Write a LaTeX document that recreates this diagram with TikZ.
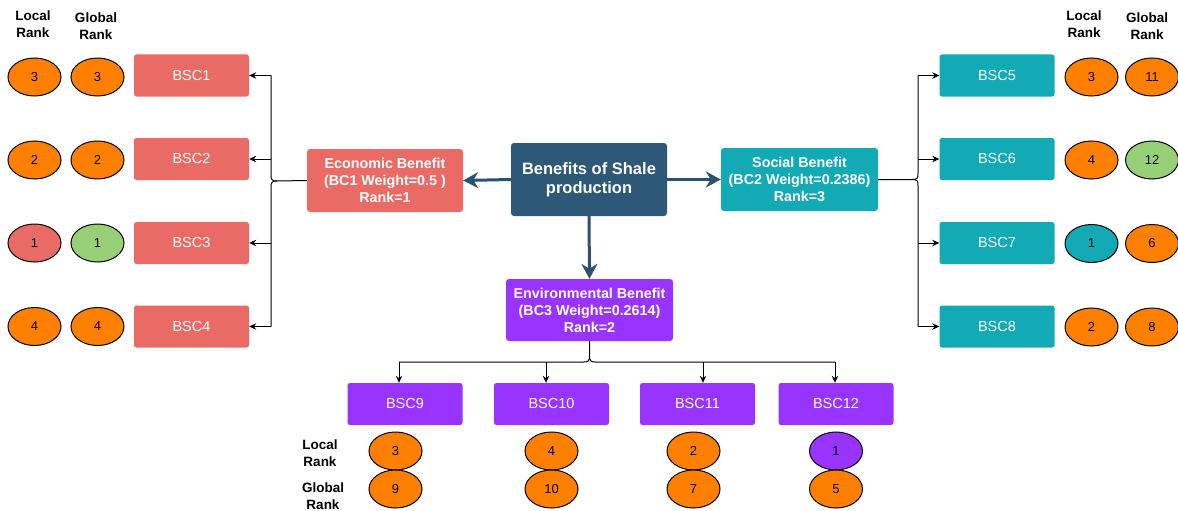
\documentclass[tikz,border=0pt]{standalone}
\usepackage{fontspec}
\setmainfont{Liberation Sans}
\usetikzlibrary{shapes.geometric,arrows.meta,calc}
\definecolor{cred}{HTML}{EA6B66}
\definecolor{cteal}{HTML}{12AAB5}
\definecolor{cpurple}{HTML}{9933FF}
\definecolor{cdark}{HTML}{2D5878}
\definecolor{carrow}{HTML}{2B5273}
\definecolor{corange}{HTML}{FF8000}
\definecolor{cgreen}{HTML}{97D077}
\tikzset{
  bsc/.style={rectangle, rounded corners=2.5pt, minimum width=115pt, minimum height=42pt, inner sep=0pt, text=white, font=\fontsize{14.5}{16}\selectfont},
  mainbox/.style={rectangle, rounded corners=3pt, inner sep=0pt, text=white, align=center, font=\bfseries\fontsize{14.3}{17}\selectfont},
  ell/.style={ellipse, draw=black, line width=1pt, minimum width=53pt, minimum height=38pt, inner sep=0pt, font=\fontsize{13}{14}\selectfont},
  lbl/.style={align=center, inner sep=0pt, font=\bfseries\fontsize{13.5}{16.5}\selectfont},
  wire/.style={draw=black, line width=1pt},
  arr/.style={wire, -{Stealth[length=7pt,width=6.5pt]}},
  bigarr/.style={draw=carrow, line width=3pt, -{Stealth[length=15pt,width=16pt,inset=5pt]}}
}
\begin{document}
\begin{tikzpicture}[x=1pt,y=-1pt]
\useasboundingbox (0,0) rectangle (1178,511);
% main boxes
\node[mainbox, fill=cdark, minimum width=156pt, minimum height=73pt, font=\bfseries\fontsize{16.5}{19.5}\selectfont] (root) at (589,179.5) {Benefits of Shale\\production};
\node[mainbox, fill=cred, minimum width=156pt, minimum height=63pt] (econ) at (385,180.5) {Economic Benefit\\(BC1 Weight=0.5 )\\Rank=1};
\node[mainbox, fill=cteal, minimum width=157pt, minimum height=63pt] (soc) at (799.5,179.5) {Social Benefit\\(BC2 Weight=0.2386)\\Rank=3};
\node[mainbox, fill=cpurple, minimum width=167pt, minimum height=62pt] (env) at (589.5,310) {Environmental Benefit\\(BC3 Weight=0.2614)\\Rank=2};
\draw[bigarr] (root.west) -- (econ.east);
\draw[bigarr] (root.east) -- (soc.west);
\draw[bigarr] (root.south) -- (env.north);
% left column
\node[bsc, fill=cred] (b1) at (191.5,75.5) {BSC1};
\node[bsc, fill=cred] (b2) at (191.5,159) {BSC2};
\node[bsc, fill=cred] (b3) at (191.5,243) {BSC3};
\node[bsc, fill=cred] (b4) at (191.5,326.5) {BSC4};
\node[lbl] (ll1) at (33,24) {Local\\Rank};
\node[lbl] (lg1) at (96,26) {Global\\Rank};
\node[ell, fill=corange] (l1) at (34.5,77) {3};
\node[ell, fill=corange] (g1) at (97.5,77) {3};
\node[ell, fill=corange] (l2) at (34.5,160) {2};
\node[ell, fill=corange] (g2) at (97.5,160) {2};
\node[ell, fill=cred] (l3) at (34.5,243) {1};
\node[ell, fill=cgreen] (g3) at (97.5,243) {1};
\node[ell, fill=corange] (l4) at (34.5,326.5) {4};
\node[ell, fill=corange] (g4) at (97.5,326.5) {4};
\coordinate (lj) at (271,181);
\draw[wire] (econ.west) -- (277,181) .. controls (272,181) and (271,180) .. (271,175) -- (lj |- b1.east);
\draw[wire] (277,181) .. controls (272,181) and (271,182) .. (271,187) -- (lj |- b4.east);
\draw[arr] (lj |- b1.east) -- (b1.east);
\draw[arr] (lj |- b2.east) -- (b2.east);
\draw[arr] (lj |- b3.east) -- (b3.east);
\draw[arr] (lj |- b4.east) -- (b4.east);
% right column
\node[bsc, fill=cteal] (b5) at (997,75.5) {BSC5};
\node[bsc, fill=cteal] (b6) at (997,159) {BSC6};
\node[bsc, fill=cteal] (b7) at (997,243) {BSC7};
\node[bsc, fill=cteal] (b8) at (997,326.5) {BSC8};
\node[lbl] (rl1) at (1084,24) {Local\\Rank};
\node[lbl] (rg1) at (1147,26) {Global\\Rank};
\node[ell, fill=corange] (l5) at (1091.5,77) {3};
\node[ell, fill=corange] (g5) at (1152,77) {11};
\node[ell, fill=corange] (l6) at (1091.5,160) {4};
\node[ell, fill=cgreen] (g6) at (1152,160) {12};
\node[ell, fill=cteal] (l7) at (1091.5,243.5) {1};
\node[ell, fill=corange] (g7) at (1152,243.5) {6};
\node[ell, fill=corange] (l8) at (1091.5,327) {2};
\node[ell, fill=corange] (g8) at (1152,327) {8};
\coordinate (rj) at (918,179.5);
\draw[wire] (soc.east) -- (912,179.5) .. controls (917,179.5) and (918,178.5) .. (918,173.5) -- (rj |- b5.west);
\draw[wire] (912,179.5) .. controls (917,179.5) and (918,180.5) .. (918,185.5) -- (rj |- b8.west);
\draw[arr] (rj |- b5.west) -- (b5.west);
\draw[arr] (rj |- b6.west) -- (b6.west);
\draw[arr] (rj |- b7.west) -- (b7.west);
\draw[arr] (rj |- b8.west) -- (b8.west);
% bottom row
\node[bsc, fill=cpurple] (b9) at (405,404) {BSC9};
\node[bsc, fill=cpurple] (b10) at (551.5,404) {BSC10};
\node[bsc, fill=cpurple] (b11) at (697.5,404) {BSC11};
\node[bsc, fill=cpurple] (b12) at (836,404) {BSC12};
\node[lbl] (bl) at (320,453) {Local\\Rank};
\node[lbl] (bg) at (323,496) {Global\\Rank};
\node[ell, fill=corange] (l9) at (395.5,451) {3};
\node[ell, fill=corange] (g9) at (395.5,489) {9};
\node[ell, fill=corange] (l10) at (551.5,451) {4};
\node[ell, fill=corange] (g10) at (551.5,489) {10};
\node[ell, fill=corange] (l11) at (693.5,451) {2};
\node[ell, fill=corange] (g11) at (693.5,489) {7};
\node[ell, fill=cpurple] (l12) at (836,451) {1};
\node[ell, fill=corange] (g12) at (836,489) {5};
\coordinate (c9) at (399,362);
\coordinate (c10) at (546,362);
\coordinate (c11) at (703,362);
\coordinate (c12) at (835,362);
\draw[wire] (env.south) -- (589.5,355) .. controls (589.5,361) and (588.5,362) .. (583.5,362) -- (c9);
\draw[wire] (589.5,355) .. controls (589.5,361) and (590.5,362) .. (595.5,362) -- (c12);
\draw[arr] (c9) -- (c9 |- b9.north);
\draw[arr] (c10) -- (c10 |- b10.north);
\draw[arr] (c11) -- (c11 |- b11.north);
\draw[arr] (c12) -- (c12 |- b12.north);
\end{tikzpicture}
\end{document}
